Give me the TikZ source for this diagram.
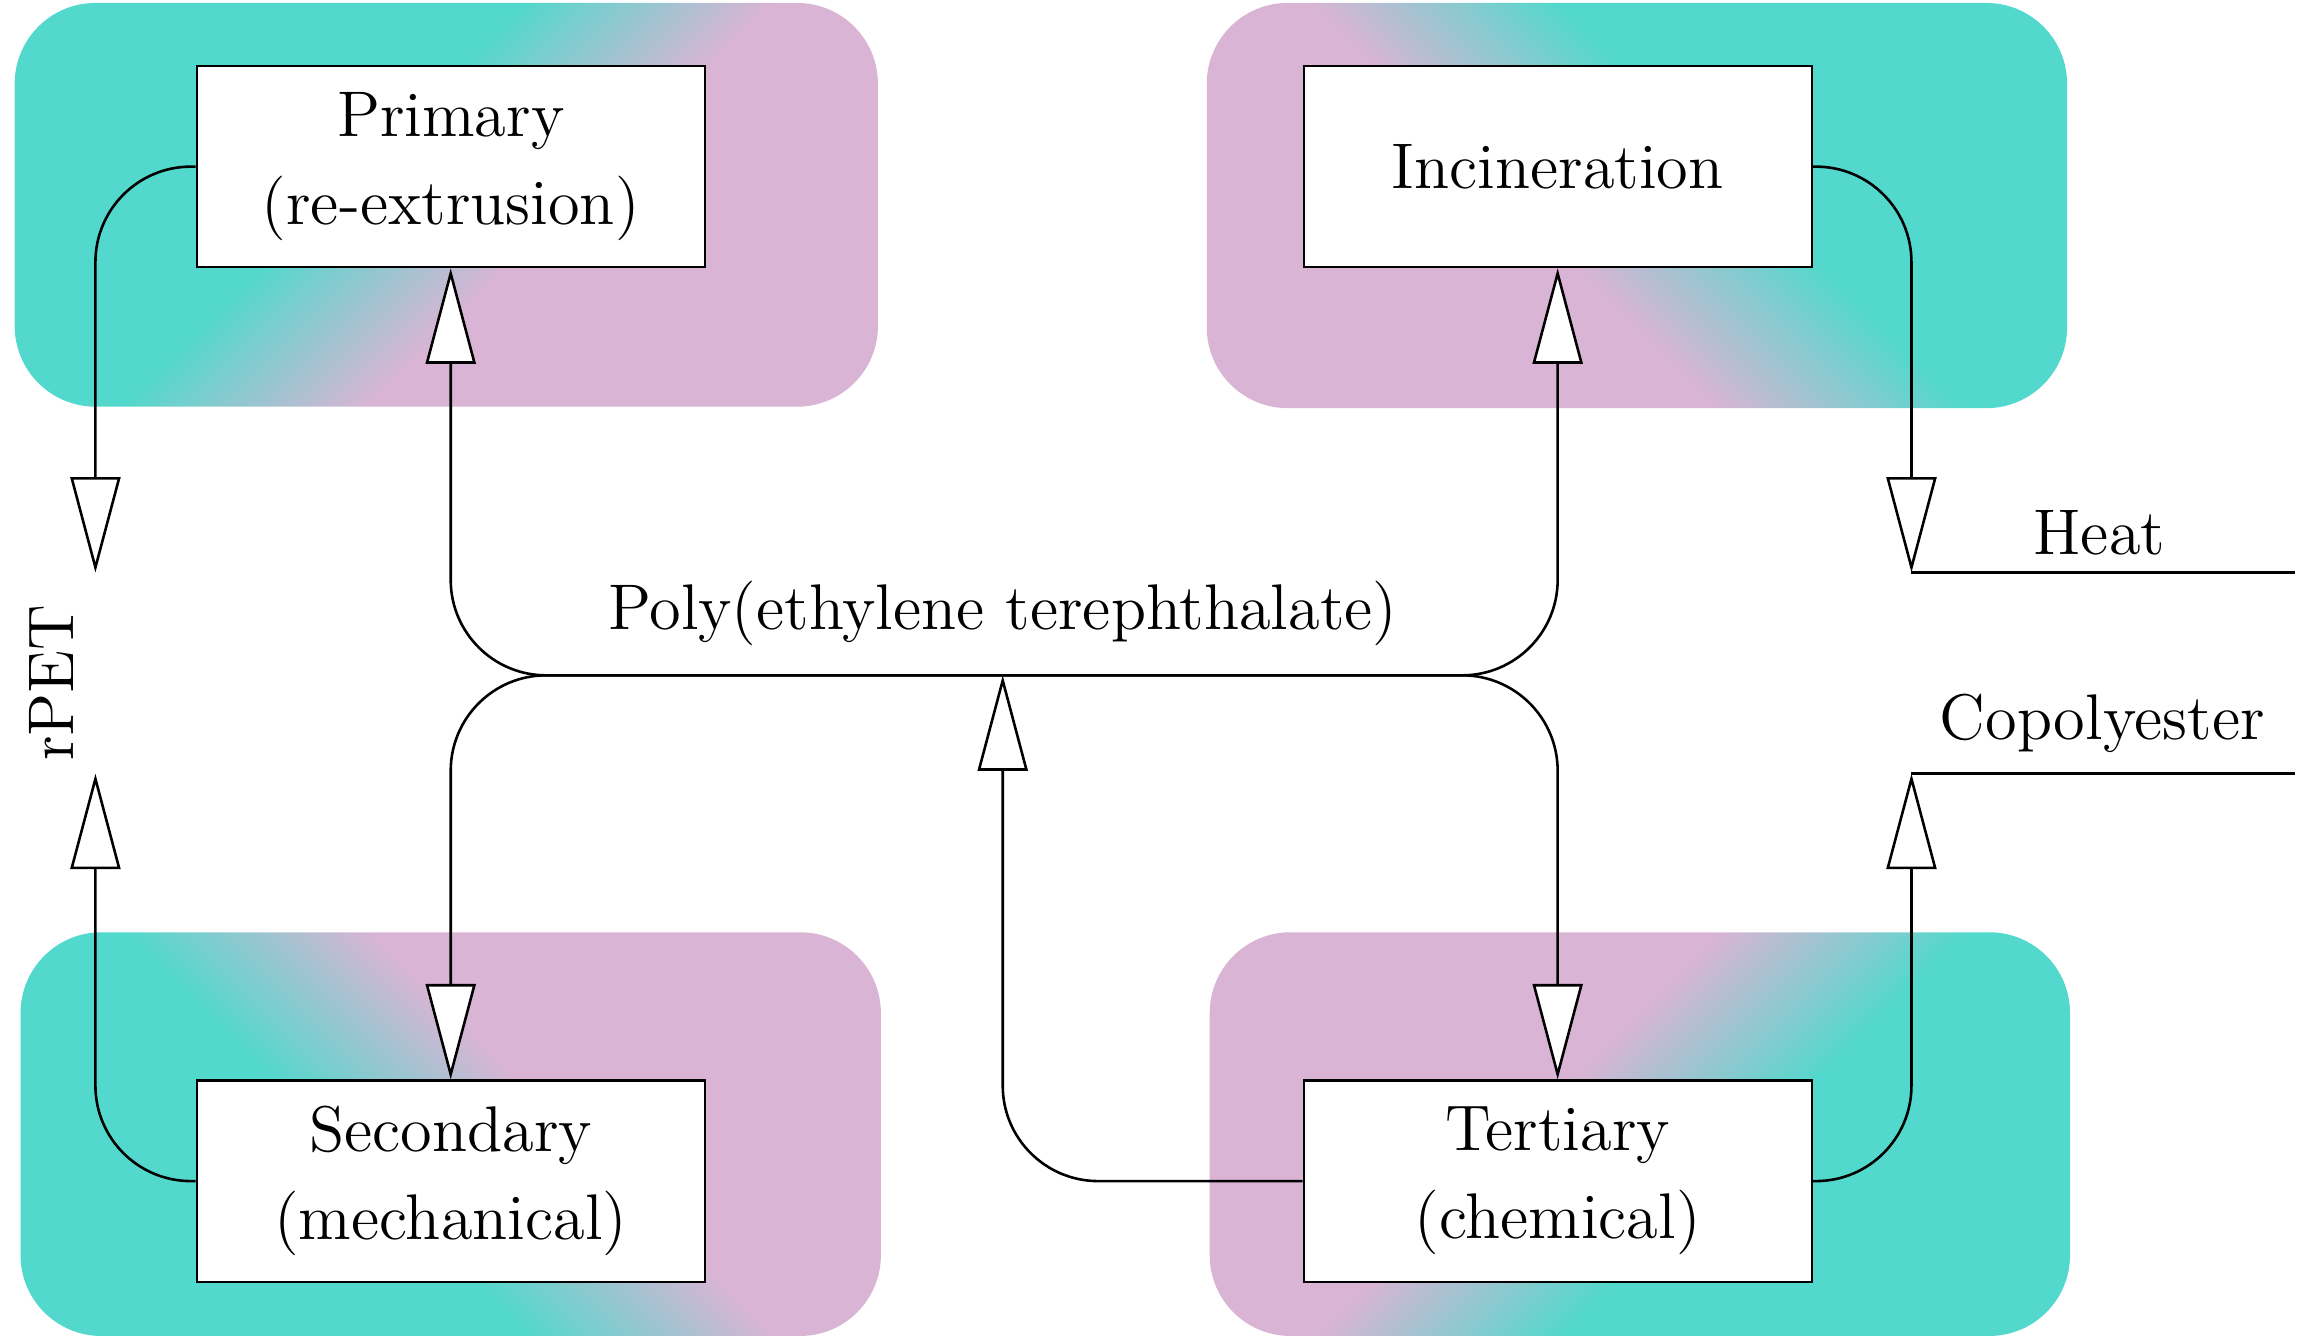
\documentclass[tikz,border=0pt]{standalone}
\usetikzlibrary{arrows.meta}
\definecolor{tl}{HTML}{52D8CC}
\definecolor{pk}{HTML}{DAB4D4}
\pgfdeclareverticalshading{pt}{100bp}{color(0bp)=(pk); color(43bp)=(pk); color(57bp)=(tl); color(100bp)=(tl)}
\pgfdeclareverticalshading{tp}{100bp}{color(0bp)=(tl); color(43bp)=(tl); color(57bp)=(pk); color(100bp)=(pk)}
\begin{document}
\begin{tikzpicture}[x=0.01cm,y=-0.01cm,
  bg/.style={rounded corners=0.55cm},
  box/.style={draw,fill=white,minimum width=3.46cm,minimum height=1.37cm,inner sep=0pt,align=center,font=\fontsize{12.5}{17}\selectfont},
  lbl/.style={font=\fontsize{12.5}{15}\selectfont},
  arr/.style={-{Triangle[open,fill=white,length=0.65cm,width=0.34cm]}},
  con/.style={draw,line width=0.5pt,rounded corners=0.65cm}]
\useasboundingbox (0,0) rectangle (1568,915);
\shade[bg,shading=pt,shading angle=45] (10,2) rectangle (598,277);
\shade[bg,shading=pt,shading angle=-45] (822,2) rectangle (1408,278);
\shade[bg,shading=tp,shading angle=-45] (14,635) rectangle (600,910);
\shade[bg,shading=tp,shading angle=45] (824,635) rectangle (1410,910);
\node[box] (pri) at (307,113.5) {Primary\\(re-extrusion)};
\node[box] (inc) at (1061,113.5) {Incineration};
\node[box] (sec) at (307,804.5) {Secondary\\(mechanical)};
\node[box] (ter) at (1061,804.5) {Tertiary\\(chemical)};
\coordinate (pc) at (683,460);
\coordinate (rA) at (65,390);
\coordinate (rB) at (65,527);
\coordinate (hA) at (1302,390);
\coordinate (hB) at (1563,390);
\coordinate (cA) at (1302,527);
\coordinate (cB) at (1563,527);
\node[lbl,anchor=south] (poly) at (683,452) {Poly(ethylene terephthalate)};
\node[lbl,rotate=90] (rpet) at (35,465) {rPET};
\node[lbl] (heat) at (1430,363) {Heat};
\node[lbl] (copo) at (1432,493) {Copolyester};
\path[con,arr] (pri.west) -| (rA);
\path[con,arr] (sec.west) -| (rB);
\path[con,arr] (pc) -| (pri.south);
\path[con,arr] (pc) -| (inc.south);
\path[con,arr] (pc) -| (sec.north);
\path[con,arr] (pc) -| (ter.north);
\path[con,arr] (ter.west) -| (pc);
\path[con,arr] (inc.east) -| (hA);
\draw[line width=0.5pt] (hA) -- (hB);
\path[con,arr] (ter.east) -| (cA);
\draw[line width=0.5pt] (cA) -- (cB);
\end{tikzpicture}
\end{document}
